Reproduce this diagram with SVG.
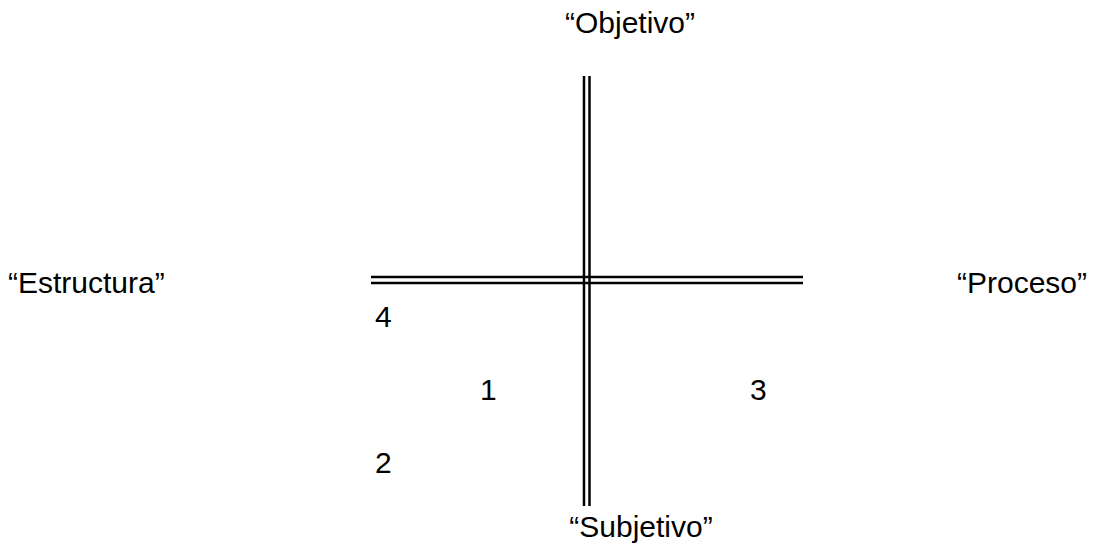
<svg xmlns="http://www.w3.org/2000/svg" width="1110" height="554" viewBox="0 0 1110 554">
<style>
text{font-family:"Liberation Sans",Arial,sans-serif;font-size:30px;fill:#000}
line{stroke:#000;stroke-width:2.5}
</style>
<rect width="1110" height="554" fill="#fff"/>
<g id="connectors">
<line x1="584" y1="76" x2="584" y2="506"/>
<line x1="589.5" y1="76" x2="589.5" y2="506"/>
<line x1="371" y1="277" x2="803" y2="277"/>
<line x1="371" y1="283" x2="803" y2="283"/>
</g>
<g id="objetivo"><text x="630" y="33" text-anchor="middle">“Objetivo”</text></g>
<g id="subjetivo"><text x="641" y="537" text-anchor="middle">“Subjetivo”</text></g>
<g id="estructura"><text x="8" y="293">“Estructura”</text></g>
<g id="proceso"><text x="957" y="293">“Proceso”</text></g>
<g id="n4"><text x="375" y="327">4</text></g>
<g id="n1"><text x="480" y="400">1</text></g>
<g id="n3"><text x="750" y="400">3</text></g>
<g id="n2"><text x="375" y="473">2</text></g>
</svg>
